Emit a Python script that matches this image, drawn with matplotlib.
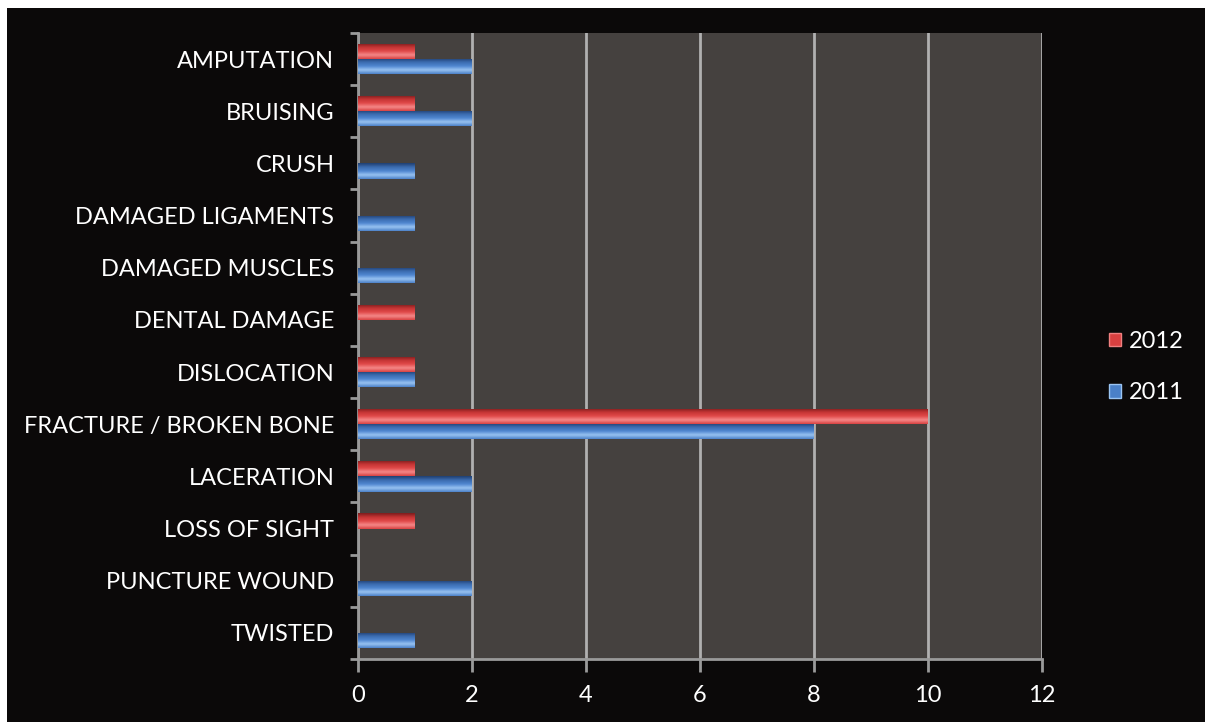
import matplotlib
matplotlib.use("Agg")
import matplotlib.pyplot as plt
import numpy as np
from matplotlib.patches import Rectangle, Patch
from matplotlib.colors import LinearSegmentedColormap

categories = ["AMPUTATION", "BRUISING", "CRUSH", "DAMAGED LIGAMENTS", "DAMAGED MUSCLES",
              "DENTAL DAMAGE", "DISLOCATION", "FRACTURE / BROKEN BONE", "LACERATION",
              "LOSS OF SIGHT", "PUNCTURE WOUND", "TWISTED"]
values_2012 = [1, 1, 0, 0, 0, 1, 1, 10, 1, 1, 0, 0]
values_2011 = [2, 2, 1, 1, 1, 0, 1, 8, 2, 0, 2, 1]
series_labels = ["2012", "2011"]
x_ticks = [0, 2, 4, 6, 8, 10, 12]

plt.rcParams['font.family'] = ['Lato', 'DejaVu Sans']

fig = plt.figure(figsize=(12.05, 7.22), dpi=100, facecolor="#0b0909")
# thin white border on top and left
fig.patches.append(Rectangle((0, 0), 7/1205, 1, transform=fig.transFigure,
                             facecolor="white", edgecolor="none", zorder=-10))
fig.patches.append(Rectangle((0, 1 - 8/722), 1, 8/722, transform=fig.transFigure,
                             facecolor="white", edgecolor="none", zorder=-10))

ax = fig.add_axes([358/1205, 1-659/722, (1042-358)/1205, (659-33)/722])
ax.set_facecolor("#45413f")

n = len(categories)
y = np.arange(n)
h = 0.29

red_cmap = LinearSegmentedColormap.from_list("r", ["#7a1c1c", "#c43434", "#e04848", "#f58a8a", "#d84040"])
blue_cmap = LinearSegmentedColormap.from_list("b", ["#1f3f70", "#3c6cb0", "#4f86d0", "#9ac4f2", "#4a80c8"])

grad = np.linspace(0, 1, 64).reshape(-1, 1)

def grad_bars(bars, cmap):
    for b in bars:
        w = b.get_width()
        if w <= 0:
            continue
        x0, y0, hh = b.get_x(), b.get_y(), b.get_height()
        im = ax.imshow(grad, cmap=cmap, aspect="auto", origin="upper",
                       extent=(x0, x0 + w, y0 + hh, y0), zorder=3, interpolation="bicubic")
        im.set_clip_path(b)

bars12 = ax.barh(y - h/2, values_2012, height=h, color="#d84040", zorder=2, label=series_labels[0])
bars11 = ax.barh(y + h/2, values_2011, height=h, color="#4a80c8", zorder=2, label=series_labels[1])
grad_bars(bars12, red_cmap)
grad_bars(bars11, blue_cmap)

ax.set_xlim(0, 12)
ax.set_ylim(n - 0.5, -0.5)
ax.set_xticks(x_ticks)
ax.set_xticklabels([str(t) for t in x_ticks])
ax.set_yticks(y)
ax.set_yticklabels(categories)
ax.set_yticks(np.arange(-0.5, n, 1), minor=True)

ax.xaxis.grid(True, color="#b0b0b0", linewidth=2, zorder=1)
ax.set_axisbelow(True)

for s in ["top", "right"]:
    ax.spines[s].set_visible(False)
for s in ["left", "bottom"]:
    ax.spines[s].set_color("#9a9a9a")
    ax.spines[s].set_linewidth(2)

ax.tick_params(axis="x", colors="#9a9a9a", length=9, width=2, labelcolor="white",
               labelsize=17, pad=10)
ax.tick_params(axis="y", which="major", length=0, labelcolor="white", labelsize=17, pad=17)
ax.tick_params(axis="y", which="minor", colors="#9a9a9a", length=6, width=2)

handles = [Patch(facecolor="#d84040", edgecolor="#f08080"), Patch(facecolor="#4a80c8", edgecolor="#9ac4f2")]
leg = fig.legend(handles, series_labels, loc="center left", bbox_to_anchor=(1088/1205, 1-367/722),
                 frameon=False, fontsize=17, labelcolor="white", handlelength=0.5, handleheight=0.5,
                 handletextpad=0.35, labelspacing=1.3)

fig.savefig("out.png", dpi=100, facecolor=fig.get_facecolor())
